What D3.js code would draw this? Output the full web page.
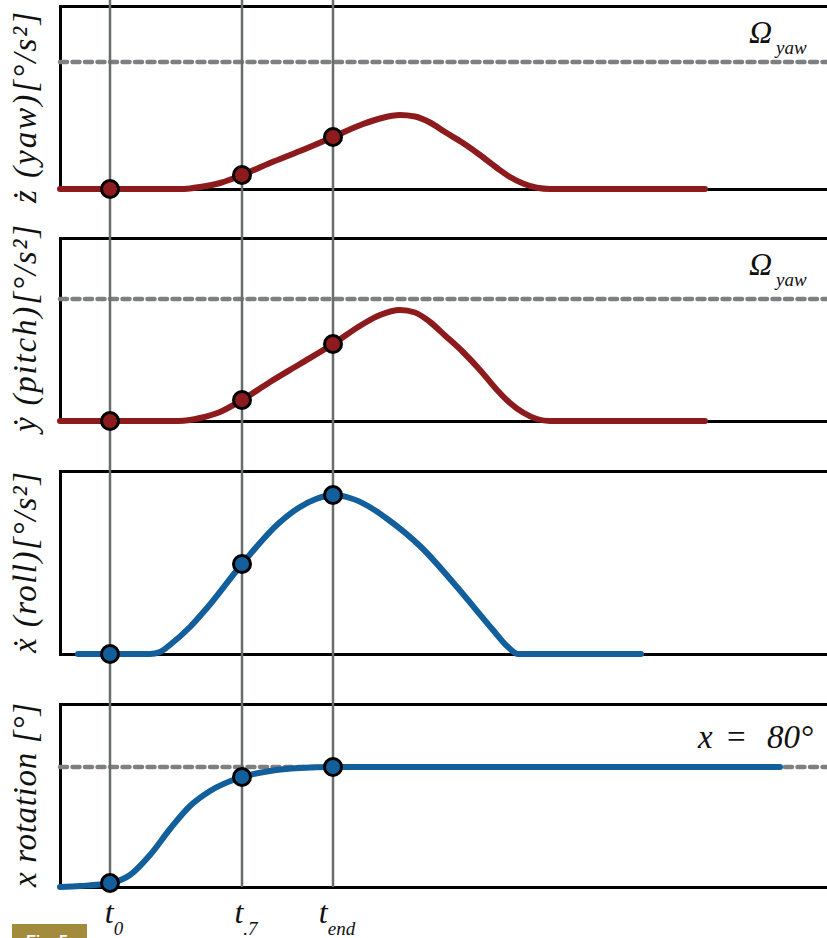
<!DOCTYPE html>
<html><head><meta charset="utf-8">
<script src="https://cdn.jsdelivr.net/npm/d3@7"></script>
<style>body{margin:0;background:#fff}svg{display:block}</style>
</head><body>
<script>
// ---- data (time offsets along x, value heights per panel) ----
const markTimes = [50, 182, 273];
const markLabels = ["0", ".7", "end"];

const yawData = [[0,0],[50,0],[118,0],[130,0.6],[140,2],[160,6],[182,14],[210,26],[240,38],[273,52],[303,65],[320,70.5],[340,74],[355,72.5],[370,66.5],[385,57],[403,46],[420,34],[437,21],[450,12],[463,5.5],[477,1.2],[490,0],[645,0]];
const pitchData = [[0,0],[50,0],[118,0],[130,1],[140,3],[160,9],[182,21],[210,39],[240,57],[273,77],[303,97],[320,106],[340,111],[355,108.5],[370,99],[385,85.5],[403,69],[420,51],[437,31],[450,18],[463,8.5],[477,2],[490,0],[645,0]];
const rollData = [[18,0],[50,0],[90,0],[100,2],[111,10],[130,27],[147,46],[182,90],[219,131],[240,147],[256,155],[273,159],[290,156],[308,148],[326,136],[361,107],[397,67],[433,24],[448,7],[458,0],[581,0]];
const rotData = [[0,0],[20,1],[50,4],[70,12],[90,32],[110,58],[130,81],[150,96],[182,110],[210,116],[240,119],[273,120],[720,120]];

const limits = [127, 122, null, 120];
const yLabels = ["ż (yaw)[°/s²]", "ẏ (pitch)[°/s²]", "ẋ (roll)[°/s²]", "x rotation [°]"];

const RED = "#8d1b1d", BLUE = "#135f9c", GRAY = "#686c6c", DASH = "#7d7f80";

// ---- layout ----
const svg = d3.select("body").append("svg").attr("width", 827).attr("height", 938);
const x = d3.scaleLinear().domain([0, 767]).range([60, 827]);
const panelH = 183;
const panels = [
  {top: 6,   data: yawData,   color: RED,  limit: limits[0], label: yLabels[0], lStart: 203, lLen: 191, tag: "omega"},
  {top: 238, data: pitchData, color: RED,  limit: limits[1], label: yLabels[1], lStart: 432, lLen: 207, tag: "omega"},
  {top: 471, data: rollData,  color: BLUE, limit: limits[2], label: yLabels[2], lStart: 653, lLen: 181, tag: null},
  {top: 704, data: rotData,   color: BLUE, limit: limits[3], label: yLabels[3], lStart: 887, lLen: 184, tag: "x80"}
];
const serif = "'Liberation Serif', 'DejaVu Serif', serif";

const gFrames = svg.append("g"), gDash = svg.append("g"), gMarks = svg.append("g"),
      gCurves = svg.append("g"), gDots = svg.append("g"), gText = svg.append("g");

panels.forEach(p => {
  const y = d3.scaleLinear().domain([0, panelH]).range([p.top + panelH, p.top]);
  p.y = y;
  const fb = gFrames.append("g").attr("transform", `translate(0,${y(0)})`).call(d3.axisBottom(x).tickValues([]).tickSizeOuter(0));
  const ft = gFrames.append("g").attr("transform", `translate(0,${y(panelH)})`).call(d3.axisTop(x).tickValues([]).tickSizeOuter(0));
  const fl = gFrames.append("g").attr("transform", `translate(${x(0)},0)`).call(d3.axisLeft(y).tickValues([]).tickSizeOuter(0));
  [fb, ft, fl].forEach(g => g.select(".domain").attr("stroke", "#000").attr("stroke-width", 3).attr("stroke-linecap", "square"));

  if (p.limit != null) {
    gDash.append("line").attr("x1", x(0)).attr("x2", x(767)).attr("y1", y(p.limit)).attr("y2", y(p.limit))
      .attr("stroke", DASH).attr("stroke-width", 4.5).attr("stroke-dasharray", "7,5.5").attr("stroke-linecap", "round");
  }

  const line = d3.line().x(d => x(d[0])).y(d => y(d[1])).curve(d3.curveMonotoneX);
  gCurves.append("path").datum(p.data).attr("d", line).attr("fill", "none")
    .attr("stroke", p.color).attr("stroke-width", 6).attr("stroke-linecap", "round");

  markTimes.forEach(t => {
    const pt = p.data.find(d => d[0] === t);
    if (!pt) return;
    gDots.append("circle").attr("cx", x(t)).attr("cy", y(pt[1])).attr("r", 8.5)
      .attr("fill", p.color).attr("stroke", "#000").attr("stroke-width", 3);
  });

  gText.append("text").attr("transform", `translate(36,${p.lStart}) rotate(-90)`)
    .attr("font-family", serif).attr("font-style", "italic").attr("font-size", 33)
    .attr("textLength", p.lLen).attr("lengthAdjust", "spacing")
    .attr("fill", "#111").text(p.label);

  if (p.tag === "omega") {
    const t = gText.append("text").attr("font-family", serif).attr("font-style", "italic").attr("fill", "#111");
    t.append("tspan").attr("x", 749).attr("y", y(panelH) + 37).attr("font-size", 32).text("Ω");
    t.append("tspan").attr("x", 776).attr("y", y(panelH) + 48).attr("font-size", 19).text("yaw");
  } else if (p.tag === "x80") {
    const t = gText.append("text").attr("font-family", serif).attr("fill", "#111").attr("font-size", 33).attr("y", y(panelH) + 44);
    t.append("tspan").attr("x", 698).attr("font-style", "italic").text("x");
    t.append("tspan").attr("x", 727).text("=");
    t.append("tspan").attr("x", 767).attr("font-style", "italic").text("80°");
  }
});

// vertical markers
const yBottom = panels[3].y(0);
markTimes.forEach(t => {
  gMarks.append("line").attr("x1", x(t)).attr("x2", x(t)).attr("y1", 0).attr("y2", yBottom)
    .attr("stroke", GRAY).attr("stroke-width", 2.5);
});

// marker labels
markTimes.forEach((t, i) => {
  const tx = gText.append("text").attr("x", x(t) + 4).attr("y", 923).attr("text-anchor", "middle")
    .attr("font-family", serif).attr("font-style", "italic").attr("fill", "#111");
  tx.append("tspan").attr("font-size", 32).text("t");
  tx.append("tspan").attr("font-size", 19).attr("dy", 12).text(markLabels[i]);
});

// Fig badge (cropped at the bottom edge, as in the reference)
svg.append("rect").attr("x", 12).attr("y", 924).attr("width", 75).attr("height", 20).attr("fill", "#a38b3d");
svg.append("text").attr("x", 26).attr("y", 947).attr("font-family", "'Liberation Sans', sans-serif")
  .attr("font-weight", "bold").attr("font-size", 16).attr("fill", "#fff").text("Fig. 5");
</script>
</body></html>
